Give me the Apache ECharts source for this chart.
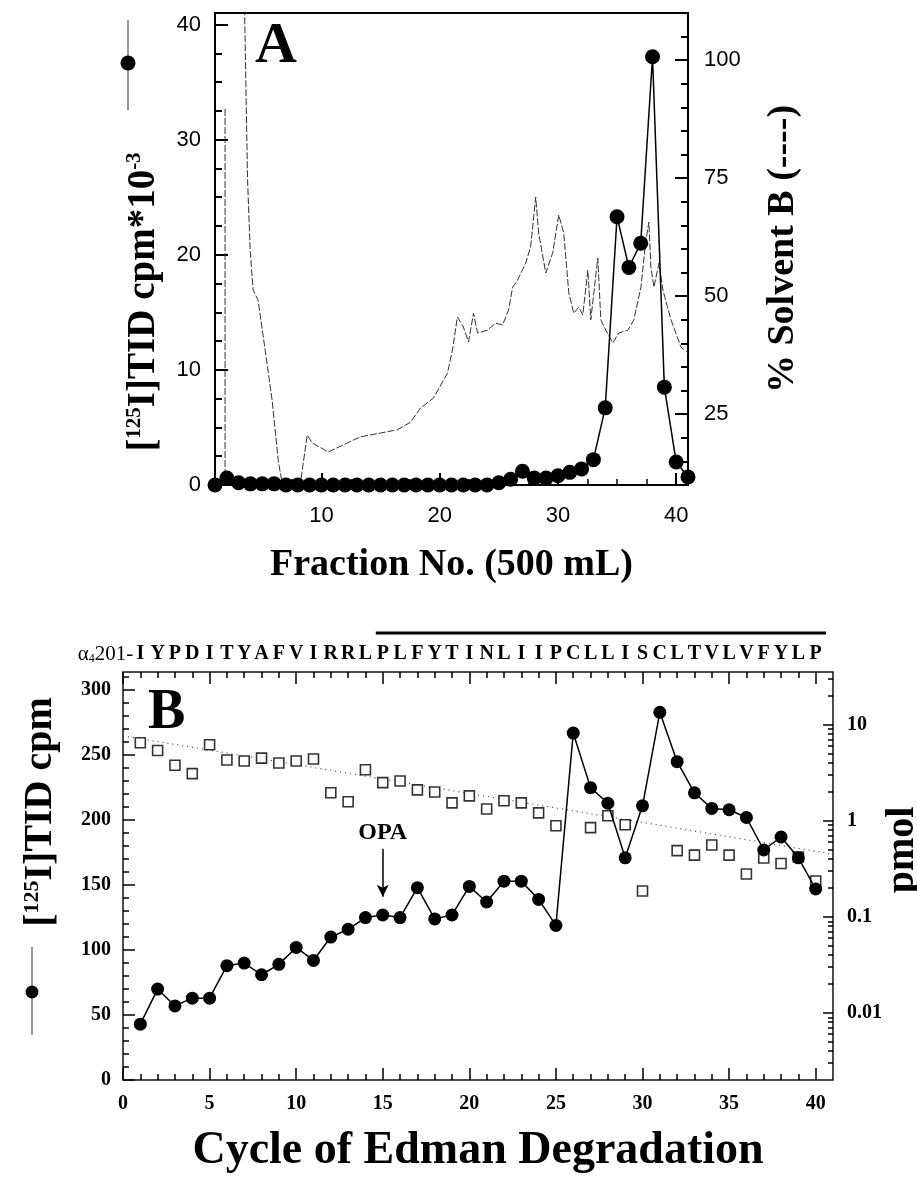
<!DOCTYPE html>
<html>
<head>
<meta charset="utf-8">
<script src="https://cdn.jsdelivr.net/npm/echarts@6/dist/echarts.min.js"></script>
<style>
  html, body { margin: 0; padding: 0; background: #fff; }
  #chart { width: 917px; height: 1179px; }
</style>
</head>
<body>
<div id="chart"></div>
<script>
// ---- panel A : HPLC of the labelled digest ----
var fractions = [1, 2, 3, 4, 5, 6, 7, 8, 9, 10, 11, 12, 13, 14, 15, 16, 17, 18, 19, 20,
  21, 22, 23, 24, 25, 26, 27, 28, 29, 30, 31, 32, 33, 34, 35, 36, 37, 38, 39, 40, 41];
// [125I]TID cpm * 10^-3
var cpmA = [0, 0.6, 0.2, 0.1, 0.1, 0.1, 0, 0, 0, 0, 0, 0, 0, 0, 0, 0, 0, 0, 0, 0,
  0, 0, 0, 0, 0.2, 0.5, 1.2, 0.6, 0.6, 0.8, 1.1, 1.4, 2.2, 6.7, 23.3, 18.9, 21.0, 37.2, 8.5, 2.0, 0.7];
// % solvent B trace (null = pen lift)
var solventX = [1.85, 1.85, 2.2, 3.5, 3.75, 3.97, 4.22, 4.64, 5.24, 5.83, 6.34, 6.7,
  8.2, 8.8, 9.22, 10.58, 11.85, 13.29, 14.98, 16.42, 17.53, 18.37,
  19.47, 20.66, 21.08, 21.5, 22.0, 22.44, 22.86, 23.2, 24.05, 24.73,
  25.32, 25.83, 26.17, 26.59, 27.27, 27.69, 28.12, 28.37, 28.97, 29.56,
  30.07, 30.49, 30.92, 31.34, 31.76, 32.1, 32.53, 32.78, 33.37, 33.63,
  34.05, 34.64, 35.15, 35.92, 36.42, 37.02, 37.44, 37.69, 37.86, 38.12,
  38.54, 38.88, 39.56, 40.41, 41];
var solventB = [10, 90, null, 111, 75, 60, 51.3, 49.2, 38.6, 28.0, 15.3, 10,
  10, 20.6, 18.9, 17.0, 18.5, 20.2, 21.0, 21.7, 23.3, 26.3,
  28.4, 33.7, 38.6, 45.6, 43.5, 40.3, 46.4, 42.2, 42.8, 44.3,
  43.9, 47.1, 51.9, 53.4, 57.0, 60.4, 71.0, 63.4, 54.9, 59.2,
  67.2, 63.4, 50.7, 46.4, 47.7, 46.0, 55.5, 45.0, 58.1, 45.0,
  42.8, 40.1, 42.2, 42.8, 45.0, 51.9, 61.9, 65.7, 56.2, 51.9,
  57.0, 51.3, 45.0, 39.2, 38.0];

var aXTicks = [10, 20, 30, 40];
var aYTicks = [0, 10, 20, 30, 40];
var aRTicks = [25, 50, 75, 100];

// ---- panel B : Edman degradation ----
var cycles = [1, 2, 3, 4, 5, 6, 7, 8, 9, 10, 11, 12, 13, 14, 15, 16, 17, 18, 19, 20,
  21, 22, 23, 24, 25, 26, 27, 28, 29, 30, 31, 32, 33, 34, 35, 36, 37, 38, 39, 40];
var cpmB = [43, 70, 57, 63, 63, 88, 90, 81, 89, 102, 92, 110, 116, 125, 127, 125, 148, 124, 127, 149,
  137, 153, 153, 139, 119, 267, 225, 213, 171, 211, 283, 245, 221, 209, 208, 202, 177, 187, 171, 147];
var squareCycles = [1, 2, 3, 4, 5, 6, 7, 8, 9, 10, 11, 12, 13, 14, 15, 16, 17, 18, 19, 20,
  21, 22, 23, 24, 25, 27, 28, 29, 30, 32, 33, 34, 35, 36, 37, 38, 39, 40];
var squarePmol = [6.5, 5.4, 3.8, 3.1, 6.2, 4.3, 4.2, 4.5, 4.0, 4.2, 4.4, 1.96, 1.58, 3.4, 2.5, 2.6, 2.1, 2.0, 1.54, 1.82,
  1.33, 1.62, 1.54, 1.21, 0.89, 0.85, 1.13, 0.91, 0.186, 0.49, 0.44, 0.56, 0.44, 0.28, 0.41, 0.36, 0.42, 0.236];
var trendCycles = [0, 41];
var trendPmol = [7.7, 0.45];
var sequence = 'IYPDITYAFVIRRLPLFYTINLIIPCLLISCLTVLVFYLP'.split('');

var bXTicks = [0, 5, 10, 15, 20, 25, 30, 35, 40];
var bYTicks = [0, 50, 100, 150, 200, 250, 300];
var pmolTicks = [0.01, 0.1, 1, 10];
var pmolTickLabels = ['0.01', '0.1', '1', '10'];
var pmolMin = 0.002, pmolMax = 35.5;

var opaCycle = 15, opaFrom = 178, opaTo = 141;
var tmFrom = 14.6, tmTo = 40.6;

var serif = '"Liberation Serif", "DejaVu Serif", serif';
var sans = '"Liberation Sans", Arial, sans-serif';

function steps(from, to, step, skip) {
  var out = [];
  var n = Math.round((to - from) / step);
  for (var i = 0; i <= n; i++) {
    var v = Math.round((from + i * step) * 1000) / 1000;
    if (skip && Math.abs(v / skip - Math.round(v / skip)) < 1e-6) continue;
    out.push(v);
  }
  return out;
}

var log10 = function(v) { return Math.log10(v); };
var logMin = log10(pmolMin), logMax = log10(pmolMax);
var logMinor = [];
for (var d = -3; d <= 1; d++) {
  for (var k = 2; k <= 9; k++) {
    var lv = log10(k * Math.pow(10, d));
    if (lv > logMin && lv < logMax) logMinor.push(lv);
  }
}

function tickAxis(o) {
  return {
    type: 'value', gridIndex: o.grid, position: o.position, min: o.min, max: o.max,
    axisLine: { show: false, onZero: false },
    splitLine: { show: false },
    axisTick: { show: true, inside: true, length: o.len, customValues: o.ticks,
      lineStyle: { color: '#000', width: o.width || 1.5 } },
    axisLabel: o.labels ? Object.assign({ show: true, customValues: o.labels, color: '#000' }, o.labelStyle)
      : { show: false },
    name: o.name, nameLocation: 'middle', nameGap: o.nameGap, nameRotate: o.nameRotate,
    nameMoveOverlap: false,
    nameTextStyle: o.nameStyle
  };
}

var chart = echarts.init(document.getElementById('chart'));

var option = {
  animation: false,
  backgroundColor: '#fff',
  grid: [
    { left: 215, top: 13, width: 473, height: 472, show: true, borderColor: '#000', borderWidth: 2,
      outerBoundsMode: 'none', containLabel: false },
    { left: 123, top: 672, width: 710, height: 408, show: true, borderColor: '#111', borderWidth: 1.5,
      outerBoundsMode: 'none', containLabel: false }
  ],
  xAxis: [
    tickAxis({ grid: 0, position: 'bottom', min: 1, max: 41, len: 12, ticks: aXTicks, labels: aXTicks, width: 2,
      labelStyle: { margin: 20, fontFamily: sans, fontSize: 22 },
      name: 'Fraction No. (500 mL)', nameGap: 61,
      nameStyle: { fontFamily: serif, fontWeight: 'bold', fontSize: 38, color: '#000' } }),
    tickAxis({ grid: 0, position: 'bottom', min: 1, max: 41, len: 6, ticks: steps(2.5, 37.5, 2.5, 10) }),
    tickAxis({ grid: 1, position: 'bottom', min: 0, max: 41, len: 12, ticks: bXTicks, labels: bXTicks,
      labelStyle: { margin: 14, fontFamily: serif, fontWeight: 'bold', fontSize: 20 },
      name: 'Cycle of Edman Degradation', nameGap: 48,
      nameStyle: { fontFamily: serif, fontWeight: 'bold', fontSize: 46, color: '#000' } }),
    tickAxis({ grid: 1, position: 'bottom', min: 0, max: 41, len: 6, ticks: steps(1, 39, 1, 5) }),
    tickAxis({ grid: 1, position: 'top', min: 0, max: 41, len: 12, ticks: bXTicks, labels: cycles,
      labelStyle: { margin: 8, fontFamily: serif, fontWeight: 'bold', fontSize: 20,
        formatter: function(v) { return sequence[Math.round(v) - 1] || ''; } } }),
    tickAxis({ grid: 1, position: 'top', min: 0, max: 41, len: 6, ticks: steps(1, 39, 1, 5) })
  ],
  yAxis: [
    tickAxis({ grid: 0, position: 'left', min: 0, max: 41, len: 13, ticks: aYTicks, labels: aYTicks, width: 2,
      labelStyle: { margin: 14, fontFamily: sans, fontSize: 22 },
      name: '[{sup|125}I]TID cpm*10{sup|-3}', nameGap: 52, nameRotate: 90,
      nameStyle: { fontFamily: serif, fontWeight: 'bold', fontSize: 39, color: '#000', padding: [0, 106, 0, 0],
        rich: { sup: { fontFamily: serif, fontSize: 21, verticalAlign: 'top', color: '#000' } } } }),
    tickAxis({ grid: 0, position: 'left', min: 0, max: 41, len: 7, ticks: steps(2.5, 37.5, 2.5, 10), width: 2 }),
    tickAxis({ grid: 0, position: 'right', min: 10, max: 110, len: 13, ticks: aRTicks, labels: aRTicks, width: 2,
      labelStyle: { margin: 16, fontFamily: sans, fontSize: 22 },
      name: '% Solvent B (----)', nameGap: 76, nameRotate: 90,
      nameStyle: { fontFamily: serif, fontWeight: 'bold', fontSize: 38, color: '#000' } }),
    tickAxis({ grid: 0, position: 'right', min: 10, max: 110, len: 7, ticks: steps(15, 105, 5, 25), width: 2 }),
    tickAxis({ grid: 1, position: 'left', min: 0, max: 314, len: 12, ticks: bYTicks, labels: bYTicks,
      labelStyle: { margin: 12, fontFamily: serif, fontWeight: 'bold', fontSize: 20 },
      name: '[{sup|125}I]TID cpm', nameGap: 62, nameRotate: 90,
      nameStyle: { fontFamily: serif, fontWeight: 'bold', fontSize: 40, color: '#000', padding: [0, 0, 0, 128],
        rich: { sup: { fontFamily: serif, fontWeight: 'bold', fontSize: 22, verticalAlign: 'top', color: '#000' } } } }),
    tickAxis({ grid: 1, position: 'left', min: 0, max: 314, len: 6, ticks: steps(10, 310, 10, 50) }),
    tickAxis({ grid: 1, position: 'right', min: logMin, max: logMax, len: 10, ticks: pmolTicks.map(log10),
      labels: pmolTicks.map(log10),
      labelStyle: { margin: 14, fontFamily: serif, fontWeight: 'bold', fontSize: 20,
        formatter: function(v) {
          var best = 0;
          pmolTicks.forEach(function(t, i) { if (Math.abs(log10(t) - v) < Math.abs(log10(pmolTicks[best]) - v)) best = i; });
          return pmolTickLabels[best];
        } },
      name: 'pmol', nameGap: 50, nameRotate: 90,
      nameStyle: { fontFamily: serif, fontWeight: 'bold', fontSize: 40, color: '#000', padding: [0, 0, 0, 52] } }),
    tickAxis({ grid: 1, position: 'right', min: logMin, max: logMax, len: 5, ticks: logMinor })
  ],
  series: [
    {
      name: 'solvent', type: 'line', xAxisIndex: 0, yAxisIndex: 2, z: 1,
      showSymbol: false, connectNulls: false,
      lineStyle: { color: '#333', width: 1, type: [7, 2] },
      data: solventX.map(function(x, i) { return [x, solventB[i] === null ? '-' : solventB[i]]; })
    },
    {
      name: 'cpmA', type: 'line', xAxisIndex: 0, yAxisIndex: 0, z: 3, clip: false,
      symbol: 'circle', symbolSize: 15,
      itemStyle: { color: '#000' },
      lineStyle: { color: '#000', width: 1.5 },
      data: fractions.map(function(f, i) { return [f, cpmA[i]]; })
    },
    {
      name: 'trend', type: 'line', xAxisIndex: 2, yAxisIndex: 6, z: 1,
      showSymbol: false,
      lineStyle: { color: '#444', width: 1.2, type: [1, 4] },
      data: trendCycles.map(function(c, i) { return [c, log10(trendPmol[i])]; })
    },
    {
      name: 'pmol', type: 'scatter', xAxisIndex: 2, yAxisIndex: 6, z: 2,
      symbol: 'rect', symbolSize: 10,
      itemStyle: { color: '#fff', borderColor: '#000', borderWidth: 1.6 },
      data: squareCycles.map(function(c, i) { return [c, log10(squarePmol[i])]; })
    },
    {
      name: 'cpmB', type: 'line', xAxisIndex: 2, yAxisIndex: 4, z: 3,
      symbol: 'circle', symbolSize: 13,
      itemStyle: { color: '#000' },
      lineStyle: { color: '#000', width: 1.5 },
      data: cycles.map(function(c, i) { return [c, cpmB[i]]; }),
      markLine: {
        silent: true, symbol: ['none', 'arrow'], symbolSize: [9, 12],
        lineStyle: { color: '#000', width: 1.5, type: 'solid' },
        label: { show: true, position: 'start', formatter: 'OPA', distance: 4,
          fontFamily: serif, fontWeight: 'bold', fontSize: 24, color: '#000' },
        data: [[{ coord: [opaCycle, opaFrom] }, { coord: [opaCycle, opaTo] }]]
      }
    }
  ]
};

chart.setOption(option);

// annotations placed from the axes' own scale
var tmX0 = chart.convertToPixel({ xAxisIndex: 2 }, tmFrom);
var tmX1 = chart.convertToPixel({ xAxisIndex: 2 }, tmTo);
var seqStart = chart.convertToPixel({ xAxisIndex: 2 }, 1);

chart.setOption({
  graphic: [
    { type: 'text', left: 255, top: 18, style: { text: 'A', fontFamily: serif, fontWeight: 'bold', fontSize: 58, fill: '#000' } },
    { type: 'text', left: 148, top: 686, style: { text: 'B', fontFamily: serif, fontWeight: 'bold', fontSize: 56, fill: '#000' } },
    // legend keys
    { type: 'line', shape: { x1: 128, y1: 20, x2: 128, y2: 110 }, style: { stroke: '#333', lineWidth: 1 } },
    { type: 'circle', shape: { cx: 128, cy: 63, r: 7.5 }, style: { fill: '#000' } },
    { type: 'line', shape: { x1: 32, y1: 947, x2: 32, y2: 1035 }, style: { stroke: '#333', lineWidth: 1 } },
    { type: 'circle', shape: { cx: 32, cy: 992, r: 6.5 }, style: { fill: '#000' } },
    // sequence prefix and transmembrane bar
    { type: 'text', x: seqStart - 7, y: 654,
      style: { text: '{a|α}{s|4}{a|201-}', align: 'right', verticalAlign: 'middle',
        rich: { a: { fontFamily: serif, fontSize: 21, fill: '#000' },
                s: { fontFamily: serif, fontSize: 12, fill: '#000', verticalAlign: 'bottom' } } } },
    { type: 'line', shape: { x1: tmX0, y1: 633, x2: tmX1, y2: 633 }, style: { stroke: '#000', lineWidth: 3 } }
  ]
});
</script>
</body>
</html>
